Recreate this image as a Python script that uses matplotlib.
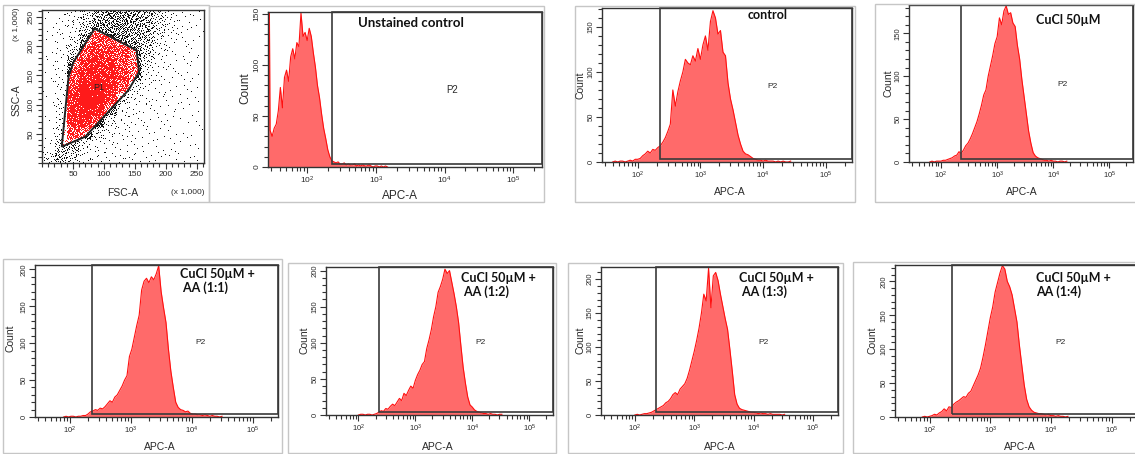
import numpy as np
import matplotlib
matplotlib.use("Agg")
import matplotlib.pyplot as plt
import matplotlib.transforms as mtransforms
from matplotlib.patches import Rectangle, Polygon
from matplotlib.path import Path
from matplotlib.ticker import FixedLocator, MultipleLocator, LogLocator, NullFormatter

W, H = 1135, 454
plt.rcParams['font.family'] = ['Liberation Sans', 'DejaVu Sans']

# FSC-A / SSC-A events per 20 x 20 (x 1,000) cell, first row is SSC 0-20
FSC_SSC_COUNTS = [
    [15, 45, 25, 8, 6, 5, 5, 5, 4, 4, 3, 3, 2],
    [3, 30, 45, 12, 6, 5, 4, 3, 3, 3, 2, 2, 2],
    [2, 14, 120, 90, 22, 8, 5, 4, 3, 3, 3, 2, 2],
    [2, 12, 180, 220, 120, 15, 6, 5, 4, 3, 3, 2, 2],
    [2, 10, 200, 280, 240, 80, 10, 6, 4, 4, 3, 2, 2],
    [2, 8, 200, 290, 280, 170, 30, 8, 5, 4, 3, 3, 2],
    [2, 8, 170, 270, 270, 210, 120, 15, 6, 4, 3, 3, 2],
    [2, 6, 130, 230, 250, 210, 160, 80, 10, 5, 4, 3, 2],
    [2, 5, 80, 200, 210, 180, 140, 90, 18, 6, 4, 3, 2],
    [2, 5, 25, 140, 170, 160, 130, 80, 30, 8, 5, 3, 2],
    [2, 5, 12, 65, 130, 120, 70, 55, 40, 14, 6, 3, 2],
    [2, 5, 10, 30, 75, 65, 65, 60, 45, 22, 9, 4, 3],
    [2, 5, 10, 25, 50, 65, 70, 60, 45, 25, 9, 4, 3],
]
CELL = 20
P1_GATE = [(85, 230), (153, 193), (157, 156), (140, 125), (70, 45), (32, 28), (43, 148), (51, 173)]

# APC-A histograms: first bin (log10 APC-A), bin width (decades), counts per bin
HIST_TITLES = ['Unstained control', 'control', 'CuCl 50µM',
               'CuCl 50µM +\n AA (1:1)', 'CuCl 50µM +\n AA (1:2)',
               'CuCl 50µM +\n AA (1:3)', 'CuCl 50µM +\nAA (1:4)']
HIST_START = [1.43, 1.60, 1.80, 1.90, 2.00, 2.00, 1.88]
HIST_STEP = [0.03, 0.04, 0.04, 0.04, 0.04, 0.04, 0.04]
HIST_COUNTS = [
    [400, 36, 30, 38, 42, 55, 78, 58, 88, 95, 84, 108, 116, 106, 122, 118, 151, 128, 132, 124,
     136, 128, 112, 98, 80, 68, 52, 38, 28, 17, 10, 6, 5, 4, 5, 3, 3, 4, 2, 3,
     2, 2, 3, 1, 2, 1, 2, 1, 1, 2, 1, 0, 1, 1, 0, 1, 0, 1, 0],
    [0, 1, 0, 1, 1, 0, 1, 2, 1, 3, 3, 4, 7, 9, 12, 10, 14, 13, 16, 18,
     22, 27, 34, 42, 80, 62, 78, 90, 100, 114, 110, 108, 118, 112, 126, 114, 130, 140, 124, 156,
     168, 160, 142, 146, 122, 118, 88, 70, 58, 44, 30, 20, 12, 9, 8, 6, 4, 3, 2, 2,
     1, 2, 1, 1, 1, 0, 1, 0, 1, 0, 0, 1],
    [0, 1, 0, 1, 1, 1, 2, 2, 3, 4, 5, 7, 8, 12, 10, 14, 19, 22, 27, 33,
     40, 47, 56, 66, 78, 84, 100, 112, 124, 138, 146, 168, 160, 176, 182, 172, 174, 162, 158, 136,
     120, 96, 76, 56, 36, 22, 11, 7, 5, 4, 3, 2, 2, 1, 2, 1, 1, 0, 1, 1, 0, 1],
    [0, 1, 0, 1, 1, 0, 1, 1, 2, 2, 4, 7, 8, 10, 9, 12, 11, 14, 18, 22,
     20, 27, 30, 36, 42, 50, 56, 82, 92, 108, 124, 138, 172, 184, 188, 182, 190, 186, 194, 205,
     170, 148, 128, 92, 62, 40, 20, 13, 10, 9, 7, 8, 5, 4, 4, 3, 3, 2, 3, 2,
     1, 2, 1, 1, 0, 1],
    [0, 1, 1, 0, 1, 1, 0, 1, 2, 4, 6, 5, 9, 8, 12, 15, 13, 18, 23, 20,
     30, 27, 34, 40, 37, 48, 56, 62, 70, 74, 92, 104, 118, 136, 150, 170, 178, 188, 202, 196,
     200, 184, 168, 150, 128, 96, 66, 44, 25, 14, 11, 7, 5, 4, 3, 2, 2, 1, 2, 1,
     1, 0, 1, 1],
    [0, 1, 0, 1, 2, 2, 3, 4, 6, 8, 10, 12, 14, 18, 20, 24, 30, 33, 30, 38,
     42, 46, 54, 66, 80, 94, 110, 128, 150, 178, 168, 216, 158, 205, 210, 198, 178, 160, 142, 126,
     96, 64, 30, 16, 10, 8, 7, 6, 5, 4, 4, 3, 2, 3, 2, 2, 1, 2, 1, 1,
     1, 1, 0, 1],
    [0, 1, 0, 1, 2, 4, 3, 6, 8, 12, 9, 15, 14, 19, 22, 24, 27, 30, 29, 35,
     38, 46, 54, 62, 72, 88, 106, 126, 146, 162, 184, 198, 212, 223, 218, 200, 192, 180, 160, 140,
     106, 76, 47, 26, 15, 10, 7, 6, 5, 5, 4, 3, 4, 2, 2, 1, 2, 1, 1, 0, 1],
]
HIST_YMAX = [152, 171, 183, 206, 205, 218, 224]
P2_LEFT = 230          # APC-A lower bound of gate P2
APC_RANGE = (10 ** 1.43, 262144)

# ---- layout, in pixels of the saved image ----
SCATTER_BOX = (3, 5, 209, 202)
SCATTER_AX = (42, 10, 204, 163)
HIST_BOX = [(209, 6, 544, 202), (575, 6, 855, 202), (875, 4, 1140, 202),
            (3, 259, 282, 453), (288, 263, 556, 453), (568, 263, 843, 453), (853, 262, 1140, 453)]
HIST_AX = [(268, 12, 542, 167), (602, 8, 852, 162), (909, 5, 1133, 162),
           (35, 265, 278, 417), (326, 267, 553, 415), (601, 267, 838, 415), (895, 265, 1137, 417)]
COUNT_POS = [(245, 88), (580, 85), (889, 83), (10, 338), (305, 340), (580, 340), (872, 340)]
APC_POS = [(400, 196), (730, 192), (1022, 192), (160, 447), (438, 447), (720, 447), (1020, 447)]
P2_POS = [(452, 90), (772, 87), (1063, 85), (200, 342), (480, 343), (763, 343), (1060, 343)]
TITLE_POS = [(358, 23), (748, 15), (1036, 20), (180, 281), (461, 285), (739, 285), (1036, 285)]
LABEL_SIZE = [8.5, 7.5, 7.5, 7.5, 7.5, 7.5, 7.5]
TITLE_SIZE = [9.5, 9, 9, 9, 9, 9, 9]

AXIS_COLOR = '#333333'
TEXT_COLOR = '#2a2a2a'
FILL = '#ff6a6a'
EDGE = '#ff1010'

fig = plt.figure(figsize=(W / 100, H / 100), dpi=100)


def px_axes(left, top, right, bottom):
    return fig.add_axes([left / W, 1 - bottom / H, (right - left) / W, (bottom - top) / H])


def px_text(x, y, s, **kw):
    kw.setdefault('color', TEXT_COLOR)
    fig.text(x / W, 1 - y / H, s, **kw)


def px_box(left, top, right, bottom):
    fig.add_artist(Rectangle((left / W, 1 - bottom / H), (right - left) / W, (bottom - top) / H,
                             transform=fig.transFigure, fill=False, ec='#c6c6c6', lw=1.0))


def style_axes(ax, size):
    for sp in ax.spines.values():
        sp.set_color(AXIS_COLOR)
        sp.set_linewidth(1.0)
    ax.tick_params(which='both', direction='out', color=AXIS_COLOR, labelcolor=TEXT_COLOR,
                   labelsize=size, width=0.8)
    ax.tick_params(which='major', length=4, pad=1.5)
    ax.tick_params(which='minor', length=3)
    plt.setp(ax.get_yticklabels(), rotation=90, va='center')


def radical_inverse(idx, base):
    out = np.zeros(len(idx))
    i = np.array(idx)
    f = 1.0 / base
    while np.any(i > 0):
        out += f * (i % base)
        i //= base
        f /= base
    return out


# ---- FSC-A vs SSC-A dot plot with gate P1 ----
px_box(*SCATTER_BOX)
ax = px_axes(*SCATTER_AX)
xs, ys, k = [], [], 1
for j, row in enumerate(FSC_SSC_COUNTS):
    for i, n in enumerate(row):
        idx = np.arange(k, k + n)
        k += n
        xs.append(i * CELL + CELL * radical_inverse(idx, 2))
        ys.append(j * CELL + CELL * radical_inverse(idx, 3))
xs = np.concatenate(xs)
ys = np.concatenate(ys)
inside = Path(P1_GATE).contains_points(np.column_stack([xs, ys]))
ax.plot(xs[~inside], ys[~inside], ',', color='#111111', zorder=1)
ax.plot(xs[inside], ys[inside], ',', color='#ff1a1a', zorder=2)
ax.add_patch(Polygon(P1_GATE, closed=True, fill=False, ec='#222222', lw=1.4, zorder=3))
ax.text(91, 129, 'P1', fontsize=6.5, color='#222222', ha='center', va='center', zorder=4)
ax.set_xlim(0, 262)
ax.set_ylim(0, 262)
ax.xaxis.set_major_locator(FixedLocator([50, 100, 150, 200, 250]))
ax.yaxis.set_major_locator(FixedLocator([50, 100, 150, 200, 250]))
ax.xaxis.set_minor_locator(MultipleLocator(10))
ax.yaxis.set_minor_locator(MultipleLocator(10))
style_axes(ax, 6)
px_text(17, 100, 'SSC-A', fontsize=7.5, rotation=90, ha='center', va='center')
px_text(17, 24, '(x 1,000)', fontsize=6, rotation=90, ha='center', va='center')
px_text(123, 193, 'FSC-A', fontsize=7.5, ha='center', va='center')
px_text(188, 193, '(x 1,000)', fontsize=6, ha='center', va='center')

# ---- APC-A histograms with gate P2 ----
for p in range(len(HIST_COUNTS)):
    px_box(*HIST_BOX[p])
    ax = px_axes(*HIST_AX[p])
    counts = np.asarray(HIST_COUNTS[p], float)
    x = 10 ** (HIST_START[p] + HIST_STEP[p] * np.arange(len(counts)))
    ax.fill_between(x, counts, color=FILL, lw=0, zorder=1)
    ax.plot(x, counts, color=EDGE, lw=0.8, zorder=2)
    ax.set_xscale('log')
    ax.set_xlim(*APC_RANGE)
    ax.set_ylim(0, HIST_YMAX[p])

    left, top, right, bottom = HIST_AX[p]
    lift = 3.0 / (bottom - top)
    trans = mtransforms.blended_transform_factory(ax.transData, ax.transAxes)
    ax.add_patch(Rectangle((P2_LEFT, lift), APC_RANGE[1] - P2_LEFT, 1 - lift, transform=trans,
                           fill=False, ec='#3a3a3a', lw=1.2, zorder=3, clip_on=False))

    ax.xaxis.set_major_locator(FixedLocator([1e2, 1e3, 1e4, 1e5]))
    ax.xaxis.set_minor_locator(LogLocator(base=10, subs=np.arange(2, 10)))
    ax.xaxis.set_minor_formatter(NullFormatter())
    ax.yaxis.set_major_locator(MultipleLocator(50))
    ax.yaxis.set_minor_locator(MultipleLocator(10))
    style_axes(ax, 5.5 if p else 6)

    size = LABEL_SIZE[p]
    px_text(*COUNT_POS[p], 'Count', fontsize=size, rotation=90, ha='center', va='center')
    px_text(*APC_POS[p], 'APC-A', fontsize=size, ha='center', va='center')
    px_text(*P2_POS[p], 'P2', fontsize=size - 1.5, ha='center', va='center')
    px_text(*TITLE_POS[p], HIST_TITLES[p], fontsize=TITLE_SIZE[p], family=['Lato', 'DejaVu Sans'],
            fontweight='bold', color='#111111', ha='left', va='center', linespacing=1.15)

fig.savefig('out.png', dpi=100)
